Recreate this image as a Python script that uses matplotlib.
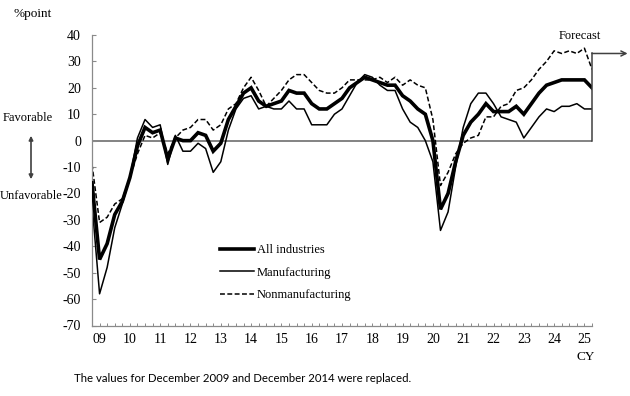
import matplotlib
matplotlib.use("Agg")
import matplotlib.pyplot as plt

# Quarterly data: Dec 2008 ... Jun 2025 (last point = forecast)
years = ['09', '10', '11', '12', '13', '14', '15', '16', '17',
         '18', '19', '20', '21', '22', '23', '24', '25']

all_industries = [-16,
                  -45, -39, -28, -23,
                  -14, -2, 5, 3,
                  4, -7, 1, 0,
                  0, 3, 2, -4,
                  -1, 8, 13, 18,
                  20, 15, 13, 14,
                  15, 19, 18, 18,
                  14, 12, 12, 14,
                  16, 20, 22, 24,
                  23, 22, 21, 21,
                  17, 15, 12, 10,
                  0, -26, -20, -8,
                  2, 7, 10, 14,
                  11, 11, 11, 13,
                  10, 14, 18, 21,
                  22, 23, 23, 23,
                  23, 20]

manufacturing = [-24,
                 -58, -48, -33, -24,
                 -14, 1, 8, 5,
                 6, -9, 2, -4,
                 -4, -1, -3, -12,
                 -8, 4, 12, 16,
                 17, 12, 13, 12,
                 12, 15, 12, 12,
                 6, 6, 6, 10,
                 12, 17, 22, 25,
                 24, 21, 19, 19,
                 12, 7, 5, 0,
                 -8, -34, -27, -10,
                 5, 14, 18, 18,
                 14, 9, 8, 7,
                 1, 5, 9, 12,
                 11, 13, 13, 14,
                 12, 12]

nonmanufacturing = [-9,
                    -31, -29, -24, -22,
                    -14, -5, 2, 1,
                    3, -5, 1, 4,
                    5, 8, 8, 4,
                    6, 12, 14, 20,
                    24, 19, 13, 16,
                    19, 23, 25, 25,
                    22, 19, 18, 18,
                    20, 23, 23, 23,
                    23, 24, 22, 24,
                    21, 23, 21, 20,
                    8, -17, -12, -5,
                    -1, 1, 2, 9,
                    9, 13, 14, 19,
                    20, 23, 27, 30,
                    34, 33, 34, 33,
                    35, 27]

forecast_top = 33

serif = ['Liberation Serif', 'DejaVu Serif']
plt.rcParams['font.family'] = serif
plt.rcParams['axes.unicode_minus'] = False

W, H = 630, 396
fig = plt.figure(figsize=(W / 100, H / 100), dpi=100)
fig.patch.set_facecolor('white')

ax = fig.add_axes([92 / W, 1 - 325.5 / H, 500 / W, (325.5 - 35) / H])

n = len(all_industries)
x = list(range(n))

ax.axhline(0, color='#6e6e6e', lw=1.2, zorder=1)

ax.plot(x, all_industries, color='black', lw=2.6, solid_joinstyle='miter', label='All industries', zorder=3)
ax.plot(x, manufacturing, color='black', lw=1.1, label='Manufacturing', zorder=2)
ax.plot(x, nonmanufacturing, color='black', lw=1.1, ls=(0, (3.2, 1.6)), label='Nonmanufacturing', zorder=2)

ax.set_xlim(0, n - 1)
ax.set_ylim(-70, 40)

# spines
for s in ['top', 'right']:
    ax.spines[s].set_visible(False)
for s in ['left', 'bottom']:
    ax.spines[s].set_color('#8a8a8a')
    ax.spines[s].set_linewidth(0.9)

# y ticks
ax.set_yticks(range(-70, 41, 10))
ax.tick_params(axis='y', direction='in', length=3, width=0.8, color='#8a8a8a',
               labelsize=10, pad=8)

# x ticks: every quarter, labels at March of each year
ax.set_xticks(range(0, n))
xlabels = [''] * n
for i, yl in enumerate(years):
    idx = 1 + 4 * i
    if idx < n:
        xlabels[idx] = yl
ax.set_xticklabels(xlabels)
ax.tick_params(axis='x', direction='in', length=2.2, width=0.7, color='#8a8a8a',
               labelsize=10, pad=5.5)

# forecast marker
ax.plot([n - 1, n - 1], [0, forecast_top], color='#404040', lw=1.1, clip_on=False, zorder=4)
ax.annotate('', xy=(n - 1 + 4.7, forecast_top), xytext=(n - 1, forecast_top),
            arrowprops=dict(arrowstyle='->', color='#404040', lw=1.1,
                            shrinkA=0, shrinkB=0, mutation_scale=9),
            annotation_clip=False)
fig.text(580 / W, 1 - 36 / H, 'Forecast', ha='center', va='center', fontsize=9)

# axis annotations
fig.text(13 / W, 1 - 14 / H, '%point', ha='left', va='center', fontsize=9.5)
fig.text(28 / W, 1 - 118 / H, 'Favorable', ha='center', va='center', fontsize=9)
fig.text(31 / W, 1 - 196 / H, 'Unfavorable', ha='center', va='center', fontsize=9)
fig.patches.append(matplotlib.patches.FancyArrowPatch(
    (31 / W, 1 - 133 / H), (31 / W, 1 - 182 / H), transform=fig.transFigure,
    arrowstyle='<|-|>', mutation_scale=6, color='#404040', lw=1.2))
fig.text(586 / W, 1 - 357 / H, 'CY', ha='center', va='center', fontsize=9.5)

# legend
leg = ax.legend(loc='upper left', bbox_to_anchor=(220 / W, 1 - 244 / H),
                bbox_transform=fig.transFigure, frameon=False, fontsize=9,
                handlelength=2.7, handletextpad=0.25, labelspacing=0.85,
                borderpad=0, borderaxespad=0)

fig.text(74 / W, 1 - 378 / H, 'The values for December 2009 and December 2014 were replaced.',
         ha='left', va='center', fontsize=8.2, family=['Lato', 'DejaVu Sans'])

fig.savefig('out.png', dpi=100, facecolor='white')
